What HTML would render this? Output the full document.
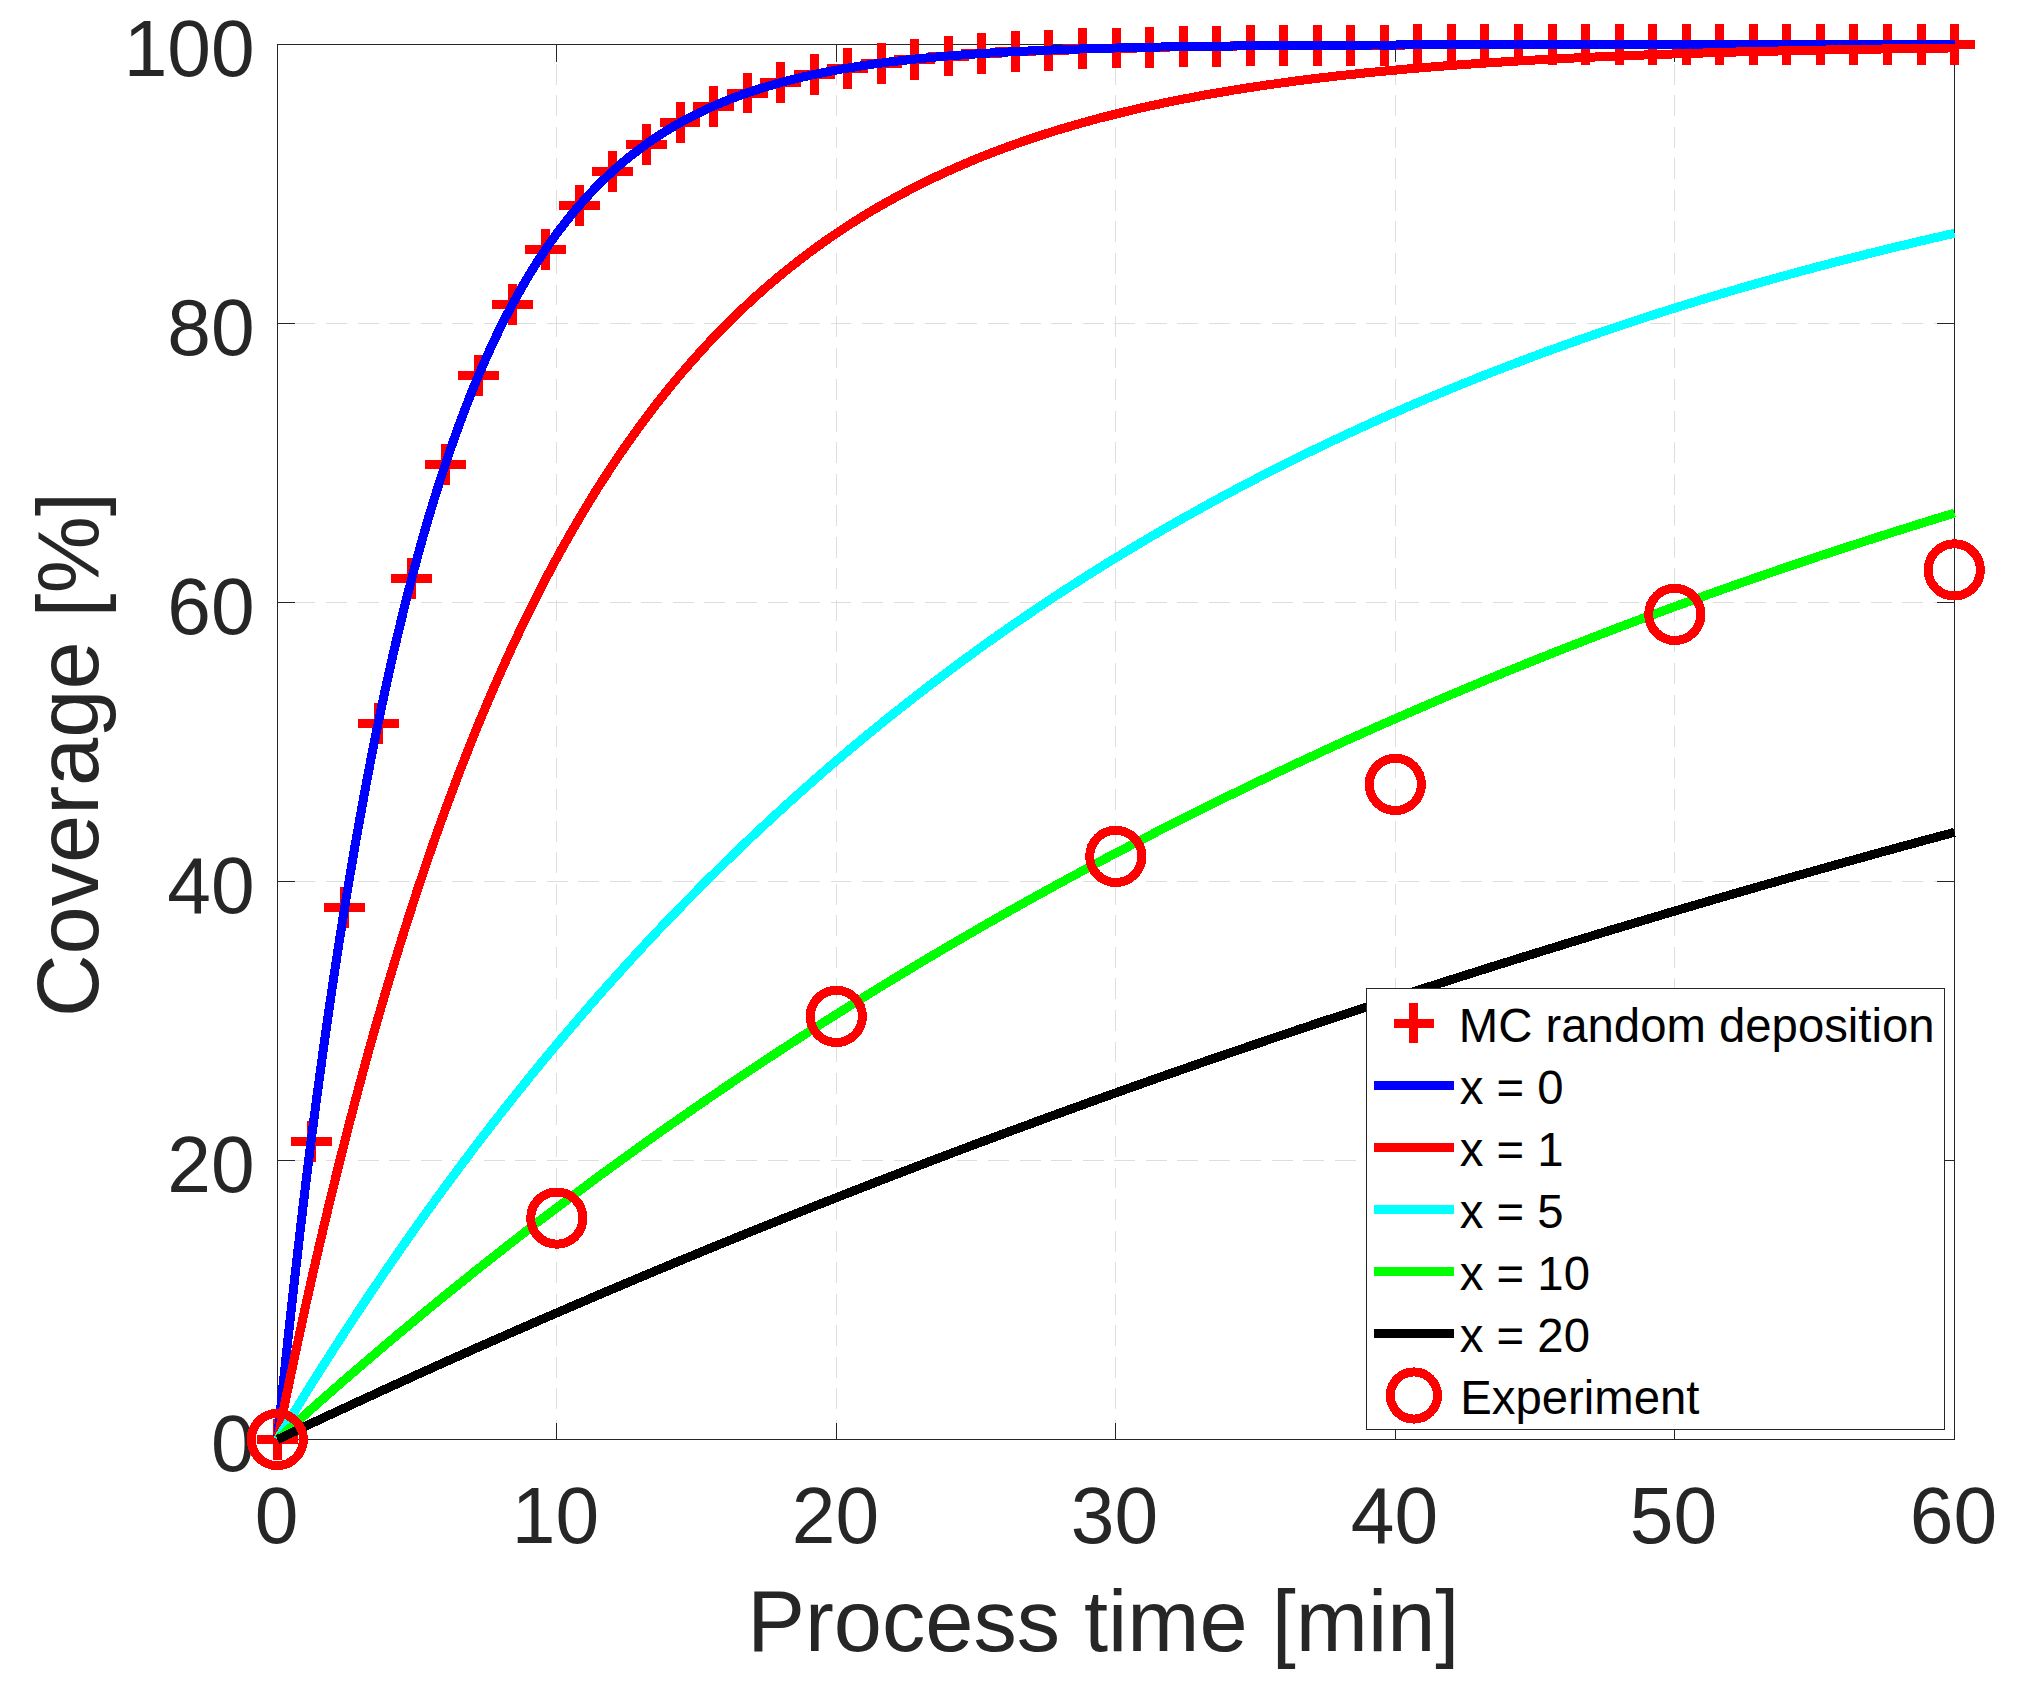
<!DOCTYPE html>
<html lang="en"><head><meta charset="utf-8"><title>Coverage vs process time</title>
<style>html,body{margin:0;padding:0;background:#fff;overflow:hidden;}svg{display:block;}text{font-family:"Liberation Sans", Arial, Helvetica, sans-serif;}</style></head><body>
<svg width="2030" height="1681" viewBox="0 0 2030 1681">
<rect x="0" y="0" width="2030" height="1681" fill="#ffffff"/>
<g stroke="#dedede" stroke-width="1" fill="none" shape-rendering="crispEdges"><line x1="556.5" y1="44.5" x2="556.5" y2="1439.5" stroke-dasharray="20.8 10.740" stroke-dashoffset="12.28"/><line x1="836.5" y1="44.5" x2="836.5" y2="1439.5" stroke-dasharray="20.8 10.740" stroke-dashoffset="12.28"/><line x1="1115.5" y1="44.5" x2="1115.5" y2="1439.5" stroke-dasharray="20.8 10.740" stroke-dashoffset="12.28"/><line x1="1395.5" y1="44.5" x2="1395.5" y2="1439.5" stroke-dasharray="20.8 10.740" stroke-dashoffset="12.28"/><line x1="1674.5" y1="44.5" x2="1674.5" y2="1439.5" stroke-dasharray="20.8 10.740" stroke-dashoffset="12.28"/><line x1="277.5" y1="1160.5" x2="1954.5" y2="1160.5" stroke-dasharray="20.8 10.723" stroke-dashoffset="14.33"/><line x1="277.5" y1="881.5" x2="1954.5" y2="881.5" stroke-dasharray="20.8 10.723" stroke-dashoffset="14.33"/><line x1="277.5" y1="602.5" x2="1954.5" y2="602.5" stroke-dasharray="20.8 10.723" stroke-dashoffset="14.33"/><line x1="277.5" y1="323.5" x2="1954.5" y2="323.5" stroke-dasharray="20.8 10.723" stroke-dashoffset="14.33"/></g>
<g stroke="#262626" stroke-width="1" fill="none" shape-rendering="crispEdges"><rect x="277.5" y="44.5" width="1677.0" height="1395.0" fill="none"/><line x1="556.5" y1="1439.5" x2="556.5" y2="1422.5"/><line x1="556.5" y1="44.5" x2="556.5" y2="61.5"/><line x1="836.5" y1="1439.5" x2="836.5" y2="1422.5"/><line x1="836.5" y1="44.5" x2="836.5" y2="61.5"/><line x1="1115.5" y1="1439.5" x2="1115.5" y2="1422.5"/><line x1="1115.5" y1="44.5" x2="1115.5" y2="61.5"/><line x1="1395.5" y1="1439.5" x2="1395.5" y2="1422.5"/><line x1="1395.5" y1="44.5" x2="1395.5" y2="61.5"/><line x1="1674.5" y1="1439.5" x2="1674.5" y2="1422.5"/><line x1="1674.5" y1="44.5" x2="1674.5" y2="61.5"/><line x1="277.5" y1="1160.5" x2="294.5" y2="1160.5"/><line x1="1954.5" y1="1160.5" x2="1937.0" y2="1160.5"/><line x1="277.5" y1="881.5" x2="294.5" y2="881.5"/><line x1="1954.5" y1="881.5" x2="1937.0" y2="881.5"/><line x1="277.5" y1="602.5" x2="294.5" y2="602.5"/><line x1="1954.5" y1="602.5" x2="1937.0" y2="602.5"/><line x1="277.5" y1="323.5" x2="294.5" y2="323.5"/><line x1="1954.5" y1="323.5" x2="1937.0" y2="323.5"/></g>
<g font-size="78.5" fill="#262626"><text transform="translate(276.5 1542.5) scale(1 1.02)" text-anchor="middle">0</text><text transform="translate(555.5 1542.5) scale(1 1.02)" text-anchor="middle">10</text><text transform="translate(835.5 1542.5) scale(1 1.02)" text-anchor="middle">20</text><text transform="translate(1114.5 1542.5) scale(1 1.02)" text-anchor="middle">30</text><text transform="translate(1394.5 1542.5) scale(1 1.02)" text-anchor="middle">40</text><text transform="translate(1673.5 1542.5) scale(1 1.02)" text-anchor="middle">50</text><text transform="translate(1953.5 1542.5) scale(1 1.02)" text-anchor="middle">60</text><text transform="translate(254.6 1471.0) scale(1 1.02)" text-anchor="end">0</text><text transform="translate(254.6 1192.0) scale(1 1.02)" text-anchor="end">20</text><text transform="translate(254.6 913.0) scale(1 1.02)" text-anchor="end">40</text><text transform="translate(254.6 634.0) scale(1 1.02)" text-anchor="end">60</text><text transform="translate(254.6 355.0) scale(1 1.02)" text-anchor="end">80</text><text transform="translate(254.6 76.0) scale(1 1.02)" text-anchor="end">100</text></g>
<text x="1103.3" y="1651" font-size="86.6" fill="#262626" text-anchor="middle">Process time [min]</text>
<text transform="translate(97.6 754.6) rotate(-90)" font-size="86.6" fill="#262626" text-anchor="middle">Coverage [%]</text>
<path d="M257.1 1439.5H297.9M277.5 1419.0V1460.0M290.6 1141.8H331.5M311.0 1121.4V1162.3M324.1 907.7H365.0M344.6 887.3V928.2M357.7 723.5H398.6M378.1 703.1V744.0M391.2 578.6H432.1M411.7 558.2V599.1M424.8 464.7H465.6M445.2 444.2V485.1M458.3 375.0H499.2M478.7 354.6V395.5M491.8 304.5H532.7M512.3 284.0V324.9M525.4 249.0H566.3M545.8 228.6V269.5M558.9 205.4H599.8M579.4 184.9V225.8M592.4 171.1H633.4M612.9 150.6V191.5M626.0 144.0H666.9M646.4 123.6V164.5M659.5 122.8H700.4M680.0 102.4V143.3M693.1 106.1H734.0M713.5 85.6V126.5M726.6 93.0H767.5M747.1 72.5V113.4M760.1 82.6H801.1M780.6 62.2V103.1M793.7 74.5H834.6M814.1 54.0V94.9M827.2 68.1H868.1M847.7 47.6V88.5M860.8 63.1H901.7M881.2 42.6V83.5M894.3 59.1H935.2M914.8 38.6V79.5M927.8 56.0H968.8M948.3 35.5V76.4M961.4 53.5H1002.3M981.8 33.1V74.0M994.9 51.6H1035.8M1015.4 31.2V72.1M1028.5 50.1H1069.4M1048.9 29.6V70.5M1062.0 48.9H1102.9M1082.5 28.4V69.3M1095.5 48.0H1136.5M1116.0 27.5V68.4M1129.1 47.2H1170.0M1149.5 26.8V67.7M1162.6 46.6H1203.5M1183.1 26.2V67.1M1196.2 46.2H1237.1M1216.6 25.7V66.6M1229.7 45.8H1270.6M1250.2 25.4V66.3M1263.2 45.5H1304.2M1283.7 25.1V66.0M1296.8 45.3H1337.7M1317.2 24.9V65.8M1330.3 45.1H1371.2M1350.8 24.7V65.6M1363.9 45.0H1404.8M1384.3 24.6V65.5M1397.4 44.9H1438.3M1417.9 24.4V65.3M1431.0 44.8H1471.9M1451.4 24.4V65.3M1464.5 44.7H1505.4M1484.9 24.3V65.2M1498.0 44.7H1538.9M1518.5 24.2V65.1M1531.6 44.7H1572.5M1552.0 24.2V65.1M1565.1 44.6H1606.0M1585.6 24.2V65.1M1598.6 44.6H1639.5M1619.1 24.1V65.0M1632.2 44.6H1673.1M1652.6 24.1V65.0M1665.7 44.6H1706.6M1686.2 24.1V65.0M1699.3 44.5H1740.2M1719.7 24.1V65.0M1732.8 44.5H1773.7M1753.3 24.1V65.0M1766.3 44.5H1807.2M1786.8 24.1V65.0M1799.9 44.5H1840.8M1820.3 24.1V65.0M1833.4 44.5H1874.3M1853.9 24.1V65.0M1867.0 44.5H1907.9M1887.4 24.1V65.0M1900.5 44.5H1941.4M1921.0 24.1V65.0M1934.0 44.5H1975.0M1954.5 24.1V65.0" stroke="#ff0000" stroke-width="9.0" fill="none" shape-rendering="crispEdges"/>
<path d="M277.5 1439.5 L283.1 1384.8 L288.7 1332.2 L294.3 1281.8 L299.9 1233.2 L305.4 1186.6 L311.0 1141.8 L316.6 1098.8 L322.2 1057.5 L327.8 1017.8 L333.4 979.6 L339.0 942.9 L344.6 907.7 L350.2 873.9 L355.8 841.3 L361.4 810.1 L366.9 780.1 L372.5 751.2 L378.1 723.5 L383.7 696.9 L389.3 671.3 L394.9 646.7 L400.5 623.1 L406.1 600.4 L411.7 578.6 L417.2 557.7 L422.8 537.6 L428.4 518.2 L434.0 499.7 L439.6 481.8 L445.2 464.7 L450.8 448.2 L456.4 432.4 L462.0 417.2 L467.6 402.5 L473.1 388.5 L478.7 375.0 L484.3 362.1 L489.9 349.6 L495.5 337.6 L501.1 326.1 L506.7 315.1 L512.3 304.5 L517.9 294.3 L523.5 284.5 L529.0 275.1 L534.6 266.1 L540.2 257.4 L545.8 249.0 L551.4 241.0 L557.0 233.3 L562.6 225.9 L568.2 218.8 L573.8 211.9 L579.4 205.4 L585.0 199.1 L590.5 193.0 L596.1 187.2 L601.7 181.6 L607.3 176.2 L612.9 171.1 L618.5 166.1 L624.1 161.3 L629.7 156.7 L635.3 152.3 L640.9 148.1 L646.4 144.0 L652.0 140.1 L657.6 136.4 L663.2 132.8 L668.8 129.3 L674.4 126.0 L680.0 122.8 L685.6 119.7 L691.2 116.8 L696.8 114.0 L702.3 111.2 L707.9 108.6 L713.5 106.1 L719.1 103.7 L724.7 101.4 L730.3 99.1 L735.9 97.0 L741.5 94.9 L747.1 93.0 L752.6 91.1 L758.2 89.2 L763.8 87.5 L769.4 85.8 L775.0 84.2 L780.6 82.6 L786.2 81.1 L791.8 79.7 L797.4 78.3 L803.0 77.0 L808.5 75.7 L814.1 74.5 L819.7 73.3 L825.3 72.2 L830.9 71.1 L836.5 70.1 L842.1 69.0 L847.7 68.1 L853.3 67.2 L858.9 66.3 L864.5 65.4 L870.0 64.6 L875.6 63.8 L881.2 63.1 L886.8 62.3 L892.4 61.6 L898.0 61.0 L903.6 60.3 L909.2 59.7 L914.8 59.1 L920.4 58.5 L925.9 58.0 L931.5 57.4 L937.1 56.9 L942.7 56.4 L948.3 56.0 L953.9 55.5 L959.5 55.1 L965.1 54.7 L970.7 54.3 L976.2 53.9 L981.8 53.5 L987.4 53.2 L993.0 52.8 L998.6 52.5 L1004.2 52.2 L1009.8 51.9 L1015.4 51.6 L1021.0 51.3 L1026.6 51.1 L1032.2 50.8 L1037.7 50.6 L1043.3 50.3 L1048.9 50.1 L1054.5 49.9 L1060.1 49.7 L1065.7 49.5 L1071.3 49.3 L1076.9 49.1 L1082.5 48.9 L1088.0 48.7 L1093.6 48.6 L1099.2 48.4 L1104.8 48.2 L1110.4 48.1 L1116.0 48.0 L1121.6 47.8 L1127.2 47.7 L1132.8 47.6 L1138.4 47.4 L1144.0 47.3 L1149.5 47.2 L1155.1 47.1 L1160.7 47.0 L1166.3 46.9 L1171.9 46.8 L1177.5 46.7 L1183.1 46.6 L1188.7 46.6 L1194.3 46.5 L1199.8 46.4 L1205.4 46.3 L1211.0 46.3 L1216.6 46.2 L1222.2 46.1 L1227.8 46.1 L1233.4 46.0 L1239.0 45.9 L1244.6 45.9 L1250.2 45.8 L1255.8 45.8 L1261.3 45.7 L1266.9 45.7 L1272.5 45.6 L1278.1 45.6 L1283.7 45.5 L1289.3 45.5 L1294.9 45.5 L1300.5 45.4 L1306.1 45.4 L1311.7 45.4 L1317.2 45.3 L1322.8 45.3 L1328.4 45.3 L1334.0 45.2 L1339.6 45.2 L1345.2 45.2 L1350.8 45.1 L1356.4 45.1 L1362.0 45.1 L1367.5 45.1 L1373.1 45.0 L1378.7 45.0 L1384.3 45.0 L1389.9 45.0 L1395.5 45.0 L1401.1 44.9 L1406.7 44.9 L1412.3 44.9 L1417.9 44.9 L1423.5 44.9 L1429.0 44.9 L1434.6 44.9 L1440.2 44.8 L1445.8 44.8 L1451.4 44.8 L1457.0 44.8 L1462.6 44.8 L1468.2 44.8 L1473.8 44.8 L1479.3 44.8 L1484.9 44.7 L1490.5 44.7 L1496.1 44.7 L1501.7 44.7 L1507.3 44.7 L1512.9 44.7 L1518.5 44.7 L1524.1 44.7 L1529.7 44.7 L1535.2 44.7 L1540.8 44.7 L1546.4 44.7 L1552.0 44.7 L1557.6 44.6 L1563.2 44.6 L1568.8 44.6 L1574.4 44.6 L1580.0 44.6 L1585.6 44.6 L1591.2 44.6 L1596.7 44.6 L1602.3 44.6 L1607.9 44.6 L1613.5 44.6 L1619.1 44.6 L1624.7 44.6 L1630.3 44.6 L1635.9 44.6 L1641.5 44.6 L1647.0 44.6 L1652.6 44.6 L1658.2 44.6 L1663.8 44.6 L1669.4 44.6 L1675.0 44.6 L1680.6 44.6 L1686.2 44.6 L1691.8 44.6 L1697.4 44.6 L1703.0 44.6 L1708.5 44.5 L1714.1 44.5 L1719.7 44.5 L1725.3 44.5 L1730.9 44.5 L1736.5 44.5 L1742.1 44.5 L1747.7 44.5 L1753.3 44.5 L1758.8 44.5 L1764.4 44.5 L1770.0 44.5 L1775.6 44.5 L1781.2 44.5 L1786.8 44.5 L1792.4 44.5 L1798.0 44.5 L1803.6 44.5 L1809.2 44.5 L1814.8 44.5 L1820.3 44.5 L1825.9 44.5 L1831.5 44.5 L1837.1 44.5 L1842.7 44.5 L1848.3 44.5 L1853.9 44.5 L1859.5 44.5 L1865.1 44.5 L1870.7 44.5 L1876.2 44.5 L1881.8 44.5 L1887.4 44.5 L1893.0 44.5 L1898.6 44.5 L1904.2 44.5 L1909.8 44.5 L1915.4 44.5 L1921.0 44.5 L1926.5 44.5 L1932.1 44.5 L1937.7 44.5 L1943.3 44.5 L1948.9 44.5 L1954.5 44.5" stroke="#0000ff" stroke-width="9.0" fill="none" stroke-linejoin="round" shape-rendering="crispEdges"/>
<path d="M277.5 1439.5 L283.1 1411.9 L288.7 1384.8 L294.3 1358.3 L299.9 1332.2 L305.4 1306.7 L311.0 1281.8 L316.6 1257.3 L322.2 1233.2 L327.8 1209.7 L333.4 1186.6 L339.0 1164.0 L344.6 1141.8 L350.2 1120.1 L355.8 1098.8 L361.4 1077.9 L366.9 1057.5 L372.5 1037.4 L378.1 1017.8 L383.7 998.5 L389.3 979.6 L394.9 961.1 L400.5 942.9 L406.1 925.1 L411.7 907.7 L417.2 890.6 L422.8 873.9 L428.4 857.4 L434.0 841.3 L439.6 825.6 L445.2 810.1 L450.8 794.9 L456.4 780.1 L462.0 765.5 L467.6 751.2 L473.1 737.2 L478.7 723.5 L484.3 710.1 L489.9 696.9 L495.5 684.0 L501.1 671.3 L506.7 658.9 L512.3 646.7 L517.9 634.8 L523.5 623.1 L529.0 611.7 L534.6 600.4 L540.2 589.4 L545.8 578.6 L551.4 568.1 L557.0 557.7 L562.6 547.5 L568.2 537.6 L573.8 527.8 L579.4 518.2 L585.0 508.9 L590.5 499.7 L596.1 490.6 L601.7 481.8 L607.3 473.2 L612.9 464.7 L618.5 456.3 L624.1 448.2 L629.7 440.2 L635.3 432.4 L640.9 424.7 L646.4 417.2 L652.0 409.8 L657.6 402.5 L663.2 395.5 L668.8 388.5 L674.4 381.7 L680.0 375.0 L685.6 368.5 L691.2 362.1 L696.8 355.8 L702.3 349.6 L707.9 343.6 L713.5 337.6 L719.1 331.8 L724.7 326.1 L730.3 320.6 L735.9 315.1 L741.5 309.7 L747.1 304.5 L752.6 299.3 L758.2 294.3 L763.8 289.4 L769.4 284.5 L775.0 279.8 L780.6 275.1 L786.2 270.5 L791.8 266.1 L797.4 261.7 L803.0 257.4 L808.5 253.1 L814.1 249.0 L819.7 245.0 L825.3 241.0 L830.9 237.1 L836.5 233.3 L842.1 229.6 L847.7 225.9 L853.3 222.3 L858.9 218.8 L864.5 215.3 L870.0 211.9 L875.6 208.6 L881.2 205.4 L886.8 202.2 L892.4 199.1 L898.0 196.0 L903.6 193.0 L909.2 190.1 L914.8 187.2 L920.4 184.4 L925.9 181.6 L931.5 178.9 L937.1 176.2 L942.7 173.6 L948.3 171.1 L953.9 168.5 L959.5 166.1 L965.1 163.7 L970.7 161.3 L976.2 159.0 L981.8 156.7 L987.4 154.5 L993.0 152.3 L998.6 150.2 L1004.2 148.1 L1009.8 146.1 L1015.4 144.0 L1021.0 142.1 L1026.6 140.1 L1032.2 138.3 L1037.7 136.4 L1043.3 134.6 L1048.9 132.8 L1054.5 131.0 L1060.1 129.3 L1065.7 127.7 L1071.3 126.0 L1076.9 124.4 L1082.5 122.8 L1088.0 121.3 L1093.6 119.7 L1099.2 118.2 L1104.8 116.8 L1110.4 115.4 L1116.0 114.0 L1121.6 112.6 L1127.2 111.2 L1132.8 109.9 L1138.4 108.6 L1144.0 107.3 L1149.5 106.1 L1155.1 104.9 L1160.7 103.7 L1166.3 102.5 L1171.9 101.4 L1177.5 100.2 L1183.1 99.1 L1188.7 98.1 L1194.3 97.0 L1199.8 96.0 L1205.4 94.9 L1211.0 93.9 L1216.6 93.0 L1222.2 92.0 L1227.8 91.1 L1233.4 90.1 L1239.0 89.2 L1244.6 88.3 L1250.2 87.5 L1255.8 86.6 L1261.3 85.8 L1266.9 85.0 L1272.5 84.2 L1278.1 83.4 L1283.7 82.6 L1289.3 81.9 L1294.9 81.1 L1300.5 80.4 L1306.1 79.7 L1311.7 79.0 L1317.2 78.3 L1322.8 77.6 L1328.4 77.0 L1334.0 76.3 L1339.6 75.7 L1345.2 75.1 L1350.8 74.5 L1356.4 73.9 L1362.0 73.3 L1367.5 72.7 L1373.1 72.2 L1378.7 71.6 L1384.3 71.1 L1389.9 70.6 L1395.5 70.1 L1401.1 69.5 L1406.7 69.0 L1412.3 68.6 L1417.9 68.1 L1423.5 67.6 L1429.0 67.2 L1434.6 66.7 L1440.2 66.3 L1445.8 65.8 L1451.4 65.4 L1457.0 65.0 L1462.6 64.6 L1468.2 64.2 L1473.8 63.8 L1479.3 63.4 L1484.9 63.1 L1490.5 62.7 L1496.1 62.3 L1501.7 62.0 L1507.3 61.6 L1512.9 61.3 L1518.5 61.0 L1524.1 60.6 L1529.7 60.3 L1535.2 60.0 L1540.8 59.7 L1546.4 59.4 L1552.0 59.1 L1557.6 58.8 L1563.2 58.5 L1568.8 58.2 L1574.4 58.0 L1580.0 57.7 L1585.6 57.4 L1591.2 57.2 L1596.7 56.9 L1602.3 56.7 L1607.9 56.4 L1613.5 56.2 L1619.1 56.0 L1624.7 55.8 L1630.3 55.5 L1635.9 55.3 L1641.5 55.1 L1647.0 54.9 L1652.6 54.7 L1658.2 54.5 L1663.8 54.3 L1669.4 54.1 L1675.0 53.9 L1680.6 53.7 L1686.2 53.5 L1691.8 53.4 L1697.4 53.2 L1703.0 53.0 L1708.5 52.8 L1714.1 52.7 L1719.7 52.5 L1725.3 52.4 L1730.9 52.2 L1736.5 52.0 L1742.1 51.9 L1747.7 51.7 L1753.3 51.6 L1758.8 51.5 L1764.4 51.3 L1770.0 51.2 L1775.6 51.1 L1781.2 50.9 L1786.8 50.8 L1792.4 50.7 L1798.0 50.6 L1803.6 50.4 L1809.2 50.3 L1814.8 50.2 L1820.3 50.1 L1825.9 50.0 L1831.5 49.9 L1837.1 49.8 L1842.7 49.7 L1848.3 49.6 L1853.9 49.5 L1859.5 49.4 L1865.1 49.3 L1870.7 49.2 L1876.2 49.1 L1881.8 49.0 L1887.4 48.9 L1893.0 48.8 L1898.6 48.7 L1904.2 48.6 L1909.8 48.6 L1915.4 48.5 L1921.0 48.4 L1926.5 48.3 L1932.1 48.2 L1937.7 48.2 L1943.3 48.1 L1948.9 48.0 L1954.5 48.0" stroke="#ff0000" stroke-width="9.0" fill="none" stroke-linejoin="round" shape-rendering="crispEdges"/>
<path d="M277.5 1439.5 L283.1 1430.2 L288.7 1421.0 L294.3 1411.9 L299.9 1402.8 L305.4 1393.8 L311.0 1384.8 L316.6 1375.9 L322.2 1367.0 L327.8 1358.3 L333.4 1349.5 L339.0 1340.9 L344.6 1332.2 L350.2 1323.7 L355.8 1315.2 L361.4 1306.7 L366.9 1298.4 L372.5 1290.0 L378.1 1281.8 L383.7 1273.5 L389.3 1265.4 L394.9 1257.3 L400.5 1249.2 L406.1 1241.2 L411.7 1233.2 L417.2 1225.3 L422.8 1217.5 L428.4 1209.7 L434.0 1202.0 L439.6 1194.3 L445.2 1186.6 L450.8 1179.0 L456.4 1171.5 L462.0 1164.0 L467.6 1156.6 L473.1 1149.2 L478.7 1141.8 L484.3 1134.6 L489.9 1127.3 L495.5 1120.1 L501.1 1113.0 L506.7 1105.9 L512.3 1098.8 L517.9 1091.8 L523.5 1084.9 L529.0 1077.9 L534.6 1071.1 L540.2 1064.3 L545.8 1057.5 L551.4 1050.7 L557.0 1044.1 L562.6 1037.4 L568.2 1030.8 L573.8 1024.3 L579.4 1017.8 L585.0 1011.3 L590.5 1004.9 L596.1 998.5 L601.7 992.1 L607.3 985.9 L612.9 979.6 L618.5 973.4 L624.1 967.2 L629.7 961.1 L635.3 955.0 L640.9 948.9 L646.4 942.9 L652.0 937.0 L657.6 931.0 L663.2 925.1 L668.8 919.3 L674.4 913.5 L680.0 907.7 L685.6 902.0 L691.2 896.3 L696.8 890.6 L702.3 885.0 L707.9 879.4 L713.5 873.9 L719.1 868.3 L724.7 862.9 L730.3 857.4 L735.9 852.0 L741.5 846.7 L747.1 841.3 L752.6 836.0 L758.2 830.8 L763.8 825.6 L769.4 820.4 L775.0 815.2 L780.6 810.1 L786.2 805.0 L791.8 800.0 L797.4 794.9 L803.0 789.9 L808.5 785.0 L814.1 780.1 L819.7 775.2 L825.3 770.3 L830.9 765.5 L836.5 760.7 L842.1 756.0 L847.7 751.2 L853.3 746.5 L858.9 741.9 L864.5 737.2 L870.0 732.6 L875.6 728.1 L881.2 723.5 L886.8 719.0 L892.4 714.5 L898.0 710.1 L903.6 705.7 L909.2 701.3 L914.8 696.9 L920.4 692.6 L925.9 688.3 L931.5 684.0 L937.1 679.7 L942.7 675.5 L948.3 671.3 L953.9 667.1 L959.5 663.0 L965.1 658.9 L970.7 654.8 L976.2 650.8 L981.8 646.7 L987.4 642.7 L993.0 638.8 L998.6 634.8 L1004.2 630.9 L1009.8 627.0 L1015.4 623.1 L1021.0 619.3 L1026.6 615.5 L1032.2 611.7 L1037.7 607.9 L1043.3 604.2 L1048.9 600.4 L1054.5 596.7 L1060.1 593.1 L1065.7 589.4 L1071.3 585.8 L1076.9 582.2 L1082.5 578.6 L1088.0 575.1 L1093.6 571.6 L1099.2 568.1 L1104.8 564.6 L1110.4 561.1 L1116.0 557.7 L1121.6 554.3 L1127.2 550.9 L1132.8 547.5 L1138.4 544.2 L1144.0 540.9 L1149.5 537.6 L1155.1 534.3 L1160.7 531.0 L1166.3 527.8 L1171.9 524.6 L1177.5 521.4 L1183.1 518.2 L1188.7 515.1 L1194.3 512.0 L1199.8 508.9 L1205.4 505.8 L1211.0 502.7 L1216.6 499.7 L1222.2 496.6 L1227.8 493.6 L1233.4 490.6 L1239.0 487.7 L1244.6 484.7 L1250.2 481.8 L1255.8 478.9 L1261.3 476.0 L1266.9 473.2 L1272.5 470.3 L1278.1 467.5 L1283.7 464.7 L1289.3 461.9 L1294.9 459.1 L1300.5 456.3 L1306.1 453.6 L1311.7 450.9 L1317.2 448.2 L1322.8 445.5 L1328.4 442.8 L1334.0 440.2 L1339.6 437.6 L1345.2 435.0 L1350.8 432.4 L1356.4 429.8 L1362.0 427.2 L1367.5 424.7 L1373.1 422.2 L1378.7 419.6 L1384.3 417.2 L1389.9 414.7 L1395.5 412.2 L1401.1 409.8 L1406.7 407.3 L1412.3 404.9 L1417.9 402.5 L1423.5 400.2 L1429.0 397.8 L1434.6 395.5 L1440.2 393.1 L1445.8 390.8 L1451.4 388.5 L1457.0 386.2 L1462.6 383.9 L1468.2 381.7 L1473.8 379.5 L1479.3 377.2 L1484.9 375.0 L1490.5 372.8 L1496.1 370.6 L1501.7 368.5 L1507.3 366.3 L1512.9 364.2 L1518.5 362.1 L1524.1 359.9 L1529.7 357.8 L1535.2 355.8 L1540.8 353.7 L1546.4 351.6 L1552.0 349.6 L1557.6 347.6 L1563.2 345.6 L1568.8 343.6 L1574.4 341.6 L1580.0 339.6 L1585.6 337.6 L1591.2 335.7 L1596.7 333.8 L1602.3 331.8 L1607.9 329.9 L1613.5 328.0 L1619.1 326.1 L1624.7 324.3 L1630.3 322.4 L1635.9 320.6 L1641.5 318.7 L1647.0 316.9 L1652.6 315.1 L1658.2 313.3 L1663.8 311.5 L1669.4 309.7 L1675.0 308.0 L1680.6 306.2 L1686.2 304.5 L1691.8 302.8 L1697.4 301.0 L1703.0 299.3 L1708.5 297.7 L1714.1 296.0 L1719.7 294.3 L1725.3 292.6 L1730.9 291.0 L1736.5 289.4 L1742.1 287.7 L1747.7 286.1 L1753.3 284.5 L1758.8 282.9 L1764.4 281.3 L1770.0 279.8 L1775.6 278.2 L1781.2 276.6 L1786.8 275.1 L1792.4 273.6 L1798.0 272.0 L1803.6 270.5 L1809.2 269.0 L1814.8 267.5 L1820.3 266.1 L1825.9 264.6 L1831.5 263.1 L1837.1 261.7 L1842.7 260.2 L1848.3 258.8 L1853.9 257.4 L1859.5 255.9 L1865.1 254.5 L1870.7 253.1 L1876.2 251.8 L1881.8 250.4 L1887.4 249.0 L1893.0 247.7 L1898.6 246.3 L1904.2 245.0 L1909.8 243.6 L1915.4 242.3 L1921.0 241.0 L1926.5 239.7 L1932.1 238.4 L1937.7 237.1 L1943.3 235.8 L1948.9 234.6 L1954.5 233.3" stroke="#00ffff" stroke-width="9.0" fill="none" stroke-linejoin="round" shape-rendering="crispEdges"/>
<path d="M277.5 1439.5 L283.1 1434.4 L288.7 1429.4 L294.3 1424.4 L299.9 1419.4 L305.4 1414.4 L311.0 1409.4 L316.6 1404.4 L322.2 1399.5 L327.8 1394.6 L333.4 1389.7 L339.0 1384.8 L344.6 1379.9 L350.2 1375.1 L355.8 1370.3 L361.4 1365.4 L366.9 1360.7 L372.5 1355.9 L378.1 1351.1 L383.7 1346.4 L389.3 1341.6 L394.9 1336.9 L400.5 1332.2 L406.1 1327.6 L411.7 1322.9 L417.2 1318.3 L422.8 1313.7 L428.4 1309.0 L434.0 1304.5 L439.6 1299.9 L445.2 1295.3 L450.8 1290.8 L456.4 1286.3 L462.0 1281.8 L467.6 1277.3 L473.1 1272.8 L478.7 1268.3 L484.3 1263.9 L489.9 1259.5 L495.5 1255.1 L501.1 1250.7 L506.7 1246.3 L512.3 1241.9 L517.9 1237.6 L523.5 1233.2 L529.0 1228.9 L534.6 1224.6 L540.2 1220.3 L545.8 1216.1 L551.4 1211.8 L557.0 1207.6 L562.6 1203.4 L568.2 1199.2 L573.8 1195.0 L579.4 1190.8 L585.0 1186.6 L590.5 1182.5 L596.1 1178.4 L601.7 1174.2 L607.3 1170.1 L612.9 1166.1 L618.5 1162.0 L624.1 1157.9 L629.7 1153.9 L635.3 1149.9 L640.9 1145.8 L646.4 1141.8 L652.0 1137.9 L657.6 1133.9 L663.2 1129.9 L668.8 1126.0 L674.4 1122.1 L680.0 1118.2 L685.6 1114.3 L691.2 1110.4 L696.8 1106.5 L702.3 1102.7 L707.9 1098.8 L713.5 1095.0 L719.1 1091.2 L724.7 1087.4 L730.3 1083.6 L735.9 1079.8 L741.5 1076.1 L747.1 1072.3 L752.6 1068.6 L758.2 1064.9 L763.8 1061.2 L769.4 1057.5 L775.0 1053.8 L780.6 1050.1 L786.2 1046.5 L791.8 1042.9 L797.4 1039.2 L803.0 1035.6 L808.5 1032.0 L814.1 1028.4 L819.7 1024.9 L825.3 1021.3 L830.9 1017.8 L836.5 1014.2 L842.1 1010.7 L847.7 1007.2 L853.3 1003.7 L858.9 1000.2 L864.5 996.8 L870.0 993.3 L875.6 989.9 L881.2 986.4 L886.8 983.0 L892.4 979.6 L898.0 976.2 L903.6 972.8 L909.2 969.5 L914.8 966.1 L920.4 962.7 L925.9 959.4 L931.5 956.1 L937.1 952.8 L942.7 949.5 L948.3 946.2 L953.9 942.9 L959.5 939.7 L965.1 936.4 L970.7 933.2 L976.2 930.0 L981.8 926.7 L987.4 923.5 L993.0 920.4 L998.6 917.2 L1004.2 914.0 L1009.8 910.8 L1015.4 907.7 L1021.0 904.6 L1026.6 901.4 L1032.2 898.3 L1037.7 895.2 L1043.3 892.2 L1048.9 889.1 L1054.5 886.0 L1060.1 883.0 L1065.7 879.9 L1071.3 876.9 L1076.9 873.9 L1082.5 870.8 L1088.0 867.8 L1093.6 864.9 L1099.2 861.9 L1104.8 858.9 L1110.4 856.0 L1116.0 853.0 L1121.6 850.1 L1127.2 847.2 L1132.8 844.2 L1138.4 841.3 L1144.0 838.4 L1149.5 835.6 L1155.1 832.7 L1160.7 829.8 L1166.3 827.0 L1171.9 824.1 L1177.5 821.3 L1183.1 818.5 L1188.7 815.7 L1194.3 812.9 L1199.8 810.1 L1205.4 807.3 L1211.0 804.5 L1216.6 801.8 L1222.2 799.0 L1227.8 796.3 L1233.4 793.6 L1239.0 790.9 L1244.6 788.1 L1250.2 785.4 L1255.8 782.8 L1261.3 780.1 L1266.9 777.4 L1272.5 774.7 L1278.1 772.1 L1283.7 769.5 L1289.3 766.8 L1294.9 764.2 L1300.5 761.6 L1306.1 759.0 L1311.7 756.4 L1317.2 753.8 L1322.8 751.2 L1328.4 748.7 L1334.0 746.1 L1339.6 743.6 L1345.2 741.0 L1350.8 738.5 L1356.4 736.0 L1362.0 733.5 L1367.5 731.0 L1373.1 728.5 L1378.7 726.0 L1384.3 723.5 L1389.9 721.1 L1395.5 718.6 L1401.1 716.2 L1406.7 713.7 L1412.3 711.3 L1417.9 708.9 L1423.5 706.5 L1429.0 704.1 L1434.6 701.7 L1440.2 699.3 L1445.8 696.9 L1451.4 694.5 L1457.0 692.2 L1462.6 689.8 L1468.2 687.5 L1473.8 685.1 L1479.3 682.8 L1484.9 680.5 L1490.5 678.2 L1496.1 675.9 L1501.7 673.6 L1507.3 671.3 L1512.9 669.0 L1518.5 666.8 L1524.1 664.5 L1529.7 662.3 L1535.2 660.0 L1540.8 657.8 L1546.4 655.6 L1552.0 653.3 L1557.6 651.1 L1563.2 648.9 L1568.8 646.7 L1574.4 644.6 L1580.0 642.4 L1585.6 640.2 L1591.2 638.0 L1596.7 635.9 L1602.3 633.7 L1607.9 631.6 L1613.5 629.5 L1619.1 627.3 L1624.7 625.2 L1630.3 623.1 L1635.9 621.0 L1641.5 618.9 L1647.0 616.8 L1652.6 614.8 L1658.2 612.7 L1663.8 610.6 L1669.4 608.6 L1675.0 606.5 L1680.6 604.5 L1686.2 602.5 L1691.8 600.4 L1697.4 598.4 L1703.0 596.4 L1708.5 594.4 L1714.1 592.4 L1719.7 590.4 L1725.3 588.4 L1730.9 586.5 L1736.5 584.5 L1742.1 582.5 L1747.7 580.6 L1753.3 578.6 L1758.8 576.7 L1764.4 574.8 L1770.0 572.8 L1775.6 570.9 L1781.2 569.0 L1786.8 567.1 L1792.4 565.2 L1798.0 563.3 L1803.6 561.4 L1809.2 559.6 L1814.8 557.7 L1820.3 555.8 L1825.9 554.0 L1831.5 552.1 L1837.1 550.3 L1842.7 548.4 L1848.3 546.6 L1853.9 544.8 L1859.5 543.0 L1865.1 541.2 L1870.7 539.4 L1876.2 537.6 L1881.8 535.8 L1887.4 534.0 L1893.0 532.2 L1898.6 530.4 L1904.2 528.7 L1909.8 526.9 L1915.4 525.2 L1921.0 523.4 L1926.5 521.7 L1932.1 520.0 L1937.7 518.2 L1943.3 516.5 L1948.9 514.8 L1954.5 513.1" stroke="#00ff00" stroke-width="9.0" fill="none" stroke-linejoin="round" shape-rendering="crispEdges"/>
<path d="M277.5 1439.5 L283.1 1436.8 L288.7 1434.2 L294.3 1431.6 L299.9 1428.9 L305.4 1426.3 L311.0 1423.6 L316.6 1421.0 L322.2 1418.4 L327.8 1415.8 L333.4 1413.2 L339.0 1410.6 L344.6 1408.0 L350.2 1405.4 L355.8 1402.8 L361.4 1400.2 L366.9 1397.6 L372.5 1395.1 L378.1 1392.5 L383.7 1389.9 L389.3 1387.4 L394.9 1384.8 L400.5 1382.3 L406.1 1379.7 L411.7 1377.2 L417.2 1374.6 L422.8 1372.1 L428.4 1369.6 L434.0 1367.0 L439.6 1364.5 L445.2 1362.0 L450.8 1359.5 L456.4 1357.0 L462.0 1354.5 L467.6 1352.0 L473.1 1349.5 L478.7 1347.0 L484.3 1344.6 L489.9 1342.1 L495.5 1339.6 L501.1 1337.2 L506.7 1334.7 L512.3 1332.2 L517.9 1329.8 L523.5 1327.4 L529.0 1324.9 L534.6 1322.5 L540.2 1320.0 L545.8 1317.6 L551.4 1315.2 L557.0 1312.8 L562.6 1310.4 L568.2 1308.0 L573.8 1305.5 L579.4 1303.1 L585.0 1300.8 L590.5 1298.4 L596.1 1296.0 L601.7 1293.6 L607.3 1291.2 L612.9 1288.8 L618.5 1286.5 L624.1 1284.1 L629.7 1281.8 L635.3 1279.4 L640.9 1277.0 L646.4 1274.7 L652.0 1272.4 L657.6 1270.0 L663.2 1267.7 L668.8 1265.4 L674.4 1263.0 L680.0 1260.7 L685.6 1258.4 L691.2 1256.1 L696.8 1253.8 L702.3 1251.5 L707.9 1249.2 L713.5 1246.9 L719.1 1244.6 L724.7 1242.3 L730.3 1240.1 L735.9 1237.8 L741.5 1235.5 L747.1 1233.2 L752.6 1231.0 L758.2 1228.7 L763.8 1226.5 L769.4 1224.2 L775.0 1222.0 L780.6 1219.7 L786.2 1217.5 L791.8 1215.3 L797.4 1213.0 L803.0 1210.8 L808.5 1208.6 L814.1 1206.4 L819.7 1204.2 L825.3 1202.0 L830.9 1199.8 L836.5 1197.6 L842.1 1195.4 L847.7 1193.2 L853.3 1191.0 L858.9 1188.8 L864.5 1186.6 L870.0 1184.5 L875.6 1182.3 L881.2 1180.1 L886.8 1178.0 L892.4 1175.8 L898.0 1173.7 L903.6 1171.5 L909.2 1169.4 L914.8 1167.2 L920.4 1165.1 L925.9 1162.9 L931.5 1160.8 L937.1 1158.7 L942.7 1156.6 L948.3 1154.5 L953.9 1152.3 L959.5 1150.2 L965.1 1148.1 L970.7 1146.0 L976.2 1143.9 L981.8 1141.8 L987.4 1139.8 L993.0 1137.7 L998.6 1135.6 L1004.2 1133.5 L1009.8 1131.4 L1015.4 1129.4 L1021.0 1127.3 L1026.6 1125.3 L1032.2 1123.2 L1037.7 1121.1 L1043.3 1119.1 L1048.9 1117.0 L1054.5 1115.0 L1060.1 1113.0 L1065.7 1110.9 L1071.3 1108.9 L1076.9 1106.9 L1082.5 1104.9 L1088.0 1102.8 L1093.6 1100.8 L1099.2 1098.8 L1104.8 1096.8 L1110.4 1094.8 L1116.0 1092.8 L1121.6 1090.8 L1127.2 1088.8 L1132.8 1086.8 L1138.4 1084.9 L1144.0 1082.9 L1149.5 1080.9 L1155.1 1078.9 L1160.7 1077.0 L1166.3 1075.0 L1171.9 1073.0 L1177.5 1071.1 L1183.1 1069.1 L1188.7 1067.2 L1194.3 1065.2 L1199.8 1063.3 L1205.4 1061.3 L1211.0 1059.4 L1216.6 1057.5 L1222.2 1055.6 L1227.8 1053.6 L1233.4 1051.7 L1239.0 1049.8 L1244.6 1047.9 L1250.2 1046.0 L1255.8 1044.1 L1261.3 1042.2 L1266.9 1040.3 L1272.5 1038.4 L1278.1 1036.5 L1283.7 1034.6 L1289.3 1032.7 L1294.9 1030.8 L1300.5 1028.9 L1306.1 1027.1 L1311.7 1025.2 L1317.2 1023.3 L1322.8 1021.5 L1328.4 1019.6 L1334.0 1017.8 L1339.6 1015.9 L1345.2 1014.1 L1350.8 1012.2 L1356.4 1010.4 L1362.0 1008.5 L1367.5 1006.7 L1373.1 1004.9 L1378.7 1003.0 L1384.3 1001.2 L1389.9 999.4 L1395.5 997.6 L1401.1 995.8 L1406.7 994.0 L1412.3 992.1 L1417.9 990.3 L1423.5 988.5 L1429.0 986.7 L1434.6 985.0 L1440.2 983.2 L1445.8 981.4 L1451.4 979.6 L1457.0 977.8 L1462.6 976.0 L1468.2 974.3 L1473.8 972.5 L1479.3 970.7 L1484.9 969.0 L1490.5 967.2 L1496.1 965.5 L1501.7 963.7 L1507.3 962.0 L1512.9 960.2 L1518.5 958.5 L1524.1 956.7 L1529.7 955.0 L1535.2 953.3 L1540.8 951.5 L1546.4 949.8 L1552.0 948.1 L1557.6 946.4 L1563.2 944.6 L1568.8 942.9 L1574.4 941.2 L1580.0 939.5 L1585.6 937.8 L1591.2 936.1 L1596.7 934.4 L1602.3 932.7 L1607.9 931.0 L1613.5 929.3 L1619.1 927.7 L1624.7 926.0 L1630.3 924.3 L1635.9 922.6 L1641.5 921.0 L1647.0 919.3 L1652.6 917.6 L1658.2 916.0 L1663.8 914.3 L1669.4 912.6 L1675.0 911.0 L1680.6 909.3 L1686.2 907.7 L1691.8 906.1 L1697.4 904.4 L1703.0 902.8 L1708.5 901.2 L1714.1 899.5 L1719.7 897.9 L1725.3 896.3 L1730.9 894.6 L1736.5 893.0 L1742.1 891.4 L1747.7 889.8 L1753.3 888.2 L1758.8 886.6 L1764.4 885.0 L1770.0 883.4 L1775.6 881.8 L1781.2 880.2 L1786.8 878.6 L1792.4 877.0 L1798.0 875.4 L1803.6 873.9 L1809.2 872.3 L1814.8 870.7 L1820.3 869.1 L1825.9 867.6 L1831.5 866.0 L1837.1 864.4 L1842.7 862.9 L1848.3 861.3 L1853.9 859.8 L1859.5 858.2 L1865.1 856.7 L1870.7 855.1 L1876.2 853.6 L1881.8 852.0 L1887.4 850.5 L1893.0 849.0 L1898.6 847.4 L1904.2 845.9 L1909.8 844.4 L1915.4 842.9 L1921.0 841.3 L1926.5 839.8 L1932.1 838.3 L1937.7 836.8 L1943.3 835.3 L1948.9 833.8 L1954.5 832.3" stroke="#000000" stroke-width="9.0" fill="none" stroke-linejoin="round" shape-rendering="crispEdges"/>
<g stroke="#ff0000" stroke-width="9" fill="none" shape-rendering="crispEdges"><circle cx="277.3" cy="1439.5" r="26.1"/><circle cx="556.8" cy="1218.1" r="26.1"/><circle cx="836.3" cy="1016.4" r="26.1"/><circle cx="1115.8" cy="856.4" r="26.1"/><circle cx="1395.3" cy="784.4" r="26.1"/><circle cx="1674.8" cy="614.4" r="26.1"/><circle cx="1954.3" cy="569.9" r="26.1"/></g>
<rect x="1366.5" y="988.5" width="578.0" height="441.0" fill="#ffffff" stroke="#262626" stroke-width="1" shape-rendering="crispEdges"/>
<g shape-rendering="crispEdges"><path d="M1393.7 1023.0H1434.1M1413.9 1002.8V1043.2" stroke="#ff0000" stroke-width="9.0" fill="none"/><line x1="1373.9" y1="1085.5" x2="1454" y2="1085.5" stroke="#0000ff" stroke-width="9.0"/><line x1="1373.9" y1="1147.5" x2="1454" y2="1147.5" stroke="#ff0000" stroke-width="9.0"/><line x1="1373.9" y1="1209.5" x2="1454" y2="1209.5" stroke="#00ffff" stroke-width="9.0"/><line x1="1373.9" y1="1271.5" x2="1454" y2="1271.5" stroke="#00ff00" stroke-width="9.0"/><line x1="1373.9" y1="1333.5" x2="1454" y2="1333.5" stroke="#000000" stroke-width="9.0"/><circle cx="1413.9" cy="1395.5" r="23.6" stroke="#ff0000" stroke-width="9" fill="none"/></g>
<g font-size="47.3" fill="#000000"><text x="1458.8" y="1041.6">MC random deposition</text><text x="1459.8" y="1103.7">x = 0</text><text x="1459.8" y="1165.8">x = 1</text><text x="1459.8" y="1227.8">x = 5</text><text x="1459.8" y="1289.9">x = 10</text><text x="1459.8" y="1352.0">x = 20</text><text x="1460.3" y="1414.1">Experiment</text></g>
</svg></body></html>
